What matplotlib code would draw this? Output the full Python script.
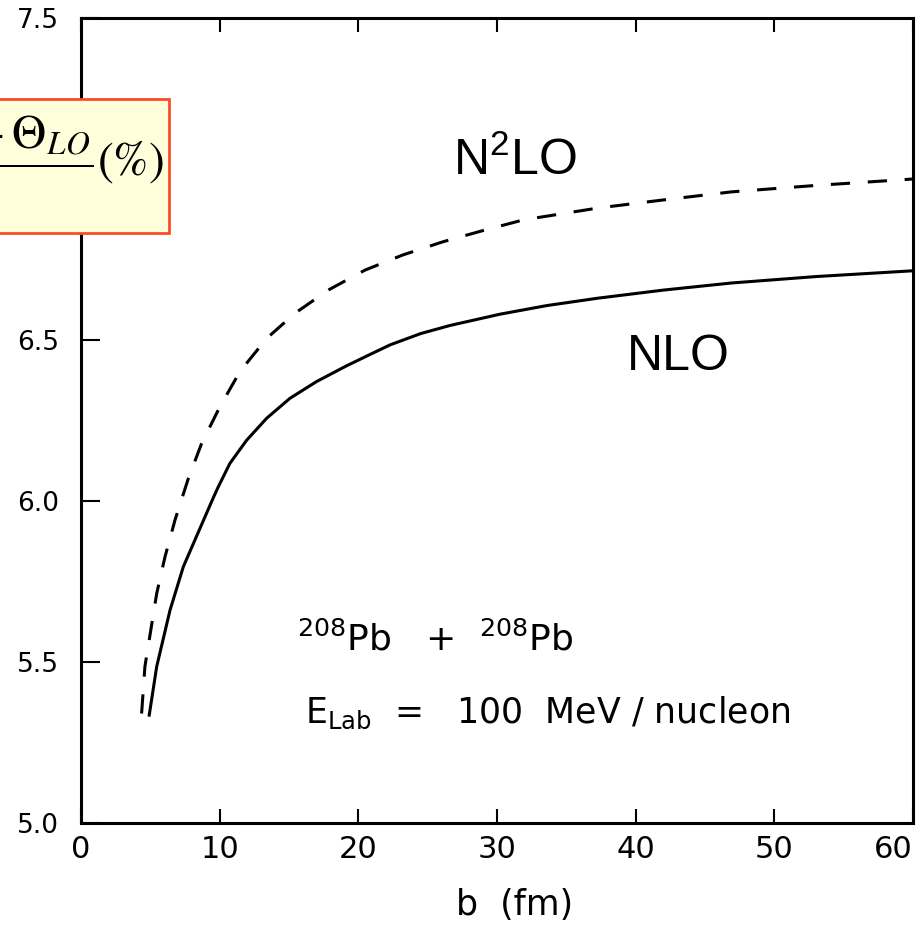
import numpy as np
import matplotlib
matplotlib.use("Agg")
import matplotlib.pyplot as plt
from matplotlib.patches import Rectangle

plt.rcParams['mathtext.fontset'] = 'stix'

# NLO correction vs impact parameter (solid)
b_nlo = [4.92, 5.46, 6.42, 7.38, 8.58, 9.54, 9.9, 10.74, 11.95, 13.39, 15.07, 16.99,
         19.16, 20.84, 22.3, 24.5, 26.6, 30.2, 33.6, 37.3, 42.0, 46.9, 53.0, 60.0]
v_nlo = [5.335, 5.486, 5.661, 5.796, 5.915, 6.01, 6.044, 6.117, 6.189, 6.257, 6.319, 6.371,
         6.42, 6.455, 6.485, 6.52, 6.545, 6.58, 6.607, 6.63, 6.655, 6.677, 6.697, 6.715]

# N2LO correction (dashed)
b_n2lo = [4.37, 4.61, 5.46, 6.06, 6.78, 7.74, 8.70, 10.02, 11.46, 13.39, 15.43, 17.83,
          20.48, 23.2, 26.1, 29.0, 31.9, 37.3, 42.0, 46.9, 53.0, 60.0]
v_n2lo = [5.34, 5.486, 5.713, 5.827, 5.941, 6.070, 6.179, 6.293, 6.402, 6.505, 6.583, 6.655,
          6.717, 6.764, 6.805, 6.84, 6.873, 6.91, 6.935, 6.96, 6.98, 7.0]

xticks = [0, 10, 20, 30, 40, 50, 60]
yticks = [5.0, 5.5, 6.0, 6.5, 7.0, 7.5]

fig = plt.figure(figsize=(9.2, 9.3), dpi=100)
ax = fig.add_axes([81 / 920, 1 - 823 / 930, 832 / 920, 805 / 930])

ax.plot(b_nlo, v_nlo, color='black', lw=2.2)
ax.plot(b_n2lo, v_n2lo, color='black', lw=2.2, dashes=(6.3, 5.8))

ax.set_xlim(0, 60)
ax.set_ylim(5.0, 7.5)
ax.set_xticks(xticks)
ax.set_xticklabels([str(t) for t in xticks], fontsize=22)
ax.set_yticks(yticks)
ax.set_yticklabels(["%.1f" % t for t in yticks], fontsize=19)
ax.get_xticklabels()[-1].set_ha('right')

ax.tick_params(axis='x', direction='in', top=True, length=10, width=1.5, pad=9)
ax.tick_params(axis='y', direction='in', right=False, length=14, width=1.5, pad=16)
for s in ax.spines.values():
    s.set_linewidth(2.2)

fig.text(515 / 920, 1 - 905 / 930, "b  (fm)", fontsize=25, ha='center', va='center')

ax.text(26.8, 7.012, r"N$\mathregular{^2}$LO", fontsize=36, family='Liberation Sans')
ax.text(39.4, 6.407, "NLO", fontsize=36, family='Liberation Sans')

ax.text(15.6, 5.537, r"$\mathregular{^{208}}$Pb   +  $\mathregular{^{208}}$Pb", fontsize=26)
ax.text(16.15, 5.31, r"E$\mathregular{_{Lab}}$  =   100  MeV / nucleon", fontsize=25)

# y-axis label box, partly outside the figure edge
box = Rectangle((-5 / 920, 1 - 233 / 930), 174 / 920, 134 / 930,
                transform=fig.transFigure, facecolor='#FFFFDC', edgecolor='#FF4A28',
                lw=2, zorder=10)
fig.patches.append(box)
fig.text(164 / 920, 1 - 164 / 930,
         r"$\dfrac{\Theta_{N^{2}LO}(b)-\Theta_{LO}}{\Theta_{LO}}\left(\%\right)$",
         fontsize=34, ha='right', va='center', zorder=11)

fig.savefig("out.png", dpi=100)
